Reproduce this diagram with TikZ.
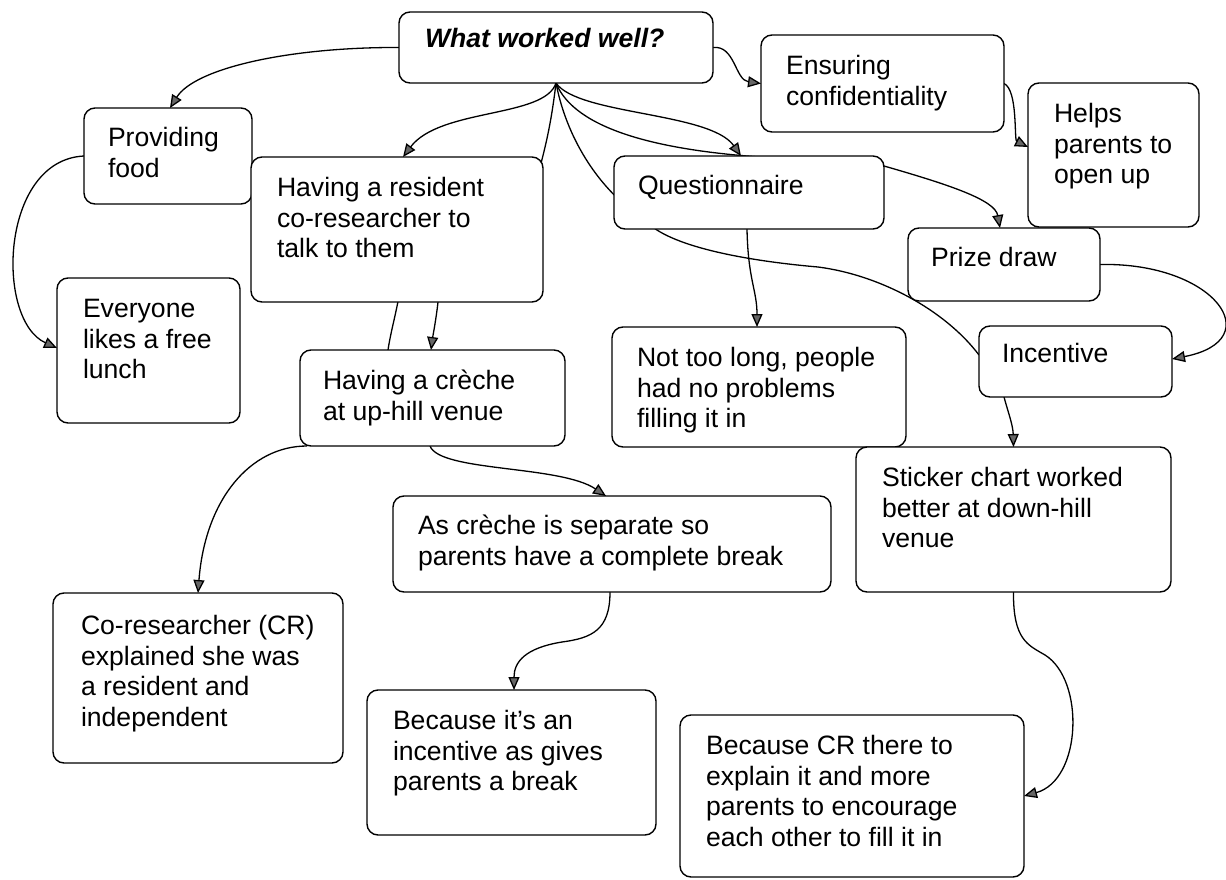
\documentclass[tikz,border=0pt]{standalone}
\usepackage{fontspec}
\setmainfont{Liberation Sans}
\usetikzlibrary{arrows.meta,fit}
\pgfdeclarelayer{links}
\pgfsetlayers{links,main}
\tikzset{
  box/.style={draw=black, line width=1.4pt, rounded corners=11pt, fill=white,
              inner sep=0pt, outer sep=0pt},
  txt/.style={anchor=north west, inner sep=0pt, outer sep=0pt, align=left,
              font=\fontsize{26.6}{30.6}\selectfont},
  link/.style={draw=black, line width=1.3pt},
  arr/.style={link, -{Triangle[length=13pt,width=11pt,fill=black!60]}},
}
\begin{document}
\begin{tikzpicture}[x=1pt,y=-1pt]
\useasboundingbox (0,0) rectangle (1226,880);

% boxes
\node[box, fit={(399,12) (713,83)}]    (top)      {};
\node[box, fit={(84,108) (252,204)}]   (food)     {};
\node[box, fit={(251,157) (543,302)}]  (res)      {};
\node[box, fit={(57,278) (240,423)}]   (every)    {};
\node[box, fit={(300,350) (565,446)}]  (creche)   {};
\node[box, fit={(614,156) (884,229)}]  (quest)    {};
\node[box, fit={(612,327) (906,447)}]  (notlong)  {};
\node[box, fit={(761,35) (1004,132)}]  (ensure)   {};
\node[box, fit={(1028,83) (1199,227)}] (helps)    {};
\node[box, fit={(908,228) (1100,301)}] (prize)    {};
\node[box, fit={(979,326) (1172,397)}] (incent)   {};
\node[box, fit={(856,447) (1171,592)}] (sticker)  {};
\node[box, fit={(53,593) (343,763)}]   (corese)   {};
\node[box, fit={(393,496) (831,592)}]  (ascreche) {};
\node[box, fit={(367,690) (656,835)}]  (because1) {};
\node[box, fit={(680,715) (1024,877)}] (becausecr){};

% labels
\node[txt] (top-t)      at (425,26)  {\strut\bfseries\itshape What worked well?};
\node[txt] (food-t)     at (108,125) {\strut Providing\\food};
\node[txt] (res-t)      at (277,175) {\strut Having a resident\\co-researcher to\\talk to them};
\node[txt] (every-t)    at (83,296)  {\strut Everyone\\likes a free\\lunch};
\node[txt] (creche-t)   at (323,368) {\strut Having a crèche\\at up-hill venue};
\node[txt] (quest-t)    at (638,173) {\strut Questionnaire};
\node[txt] (notlong-t)  at (637,345) {\strut Not too long, people\\had no problems\\filling it in};
\node[txt] (ensure-t)   at (786,53)  {\strut Ensuring\\confidentiality};
\node[txt] (helps-t)    at (1054,101){\strut Helps\\parents to\\open up};
\node[txt] (prize-t)    at (931,245) {\strut Prize draw};
\node[txt] (incent-t)   at (1002,341){\strut Incentive};
\node[txt] (sticker-t)  at (882,465) {\strut Sticker chart worked\\better at down-hill\\venue};
\node[txt] (corese-t)   at (81,613)  {\strut Co-researcher (CR)\\explained she was\\a resident and\\independent};
\node[txt] (ascreche-t) at (418,513) {\strut As crèche is separate so\\parents have a complete break};
\node[txt] (because1-t) at (393,708) {\strut Because it’s an\\incentive as gives\\parents a break};
\node[txt] (becausecr-t)at (706,733) {\strut Because CR there to\\explain it and more\\parents to encourage\\each other to fill it in};

% connectors, drawn beneath the boxes
\begin{pgfonlayer}{links}
\draw[arr] (top.west) .. controls (290,47) and (195,68) .. ([xshift=2pt]food.north);
\draw[arr] (top.south) .. controls (545,118) and (440,108) .. ([xshift=6pt]res.north);
\draw[link] (top.south) .. controls (551,125) and (545,150) .. (535,185) -- (401,285)
      .. controls (396,315) and (391,330) .. ([xshift=-44.5pt]creche.north);
\draw[arr] (top.south) .. controls (578,115) and (710,112) .. ([xshift=-8pt]quest.north);
\draw[arr] (top.south) .. controls (575,130) and (660,150) .. (760,157)
      .. controls (800,163) and (860,160) .. ([yshift=-10pt]quest.north east)
      .. controls (950,185) and (995,200) .. ([xshift=-4pt]prize.north);
\draw[link] (top.south) .. controls (565,130) and (590,175) .. (625,205) -- (650,225)
      .. controls (680,250) and (760,262) .. (818,267)
      .. controls (880,275) and (945,310) .. ([yshift=6.5pt]incent.west);
\draw[arr] (top.east) .. controls (735,45) and (735,80) .. (ensure.west);
\draw[arr] (ensure.east) .. controls (1018,90) and (1014,140) .. ([yshift=8pt]helps.west);
\draw[arr] ([xshift=-2pt]quest.south) .. controls (748,280) and (757,290) .. ([xshift=-2pt]notlong.north);
\draw[arr] (prize.east) .. controls (1215,262) and (1270,340) .. ([yshift=2.5pt]incent.east);
\draw[arr] ([xshift=-71.5pt]incent.south) .. controls (1008,412) and (1013,425) .. (sticker.north);
\draw[arr] ([xshift=41pt]res.south) .. controls (436,320) and (433,335) .. ([xshift=-1.5pt]creche.north);
\draw[arr] (food.west) .. controls (0,160) and (-5,320) .. ([yshift=2.5pt]every.west);
\draw[arr] ([xshift=7pt]creche.south west) .. controls (250,446) and (205,500) .. (corese.north);
\draw[arr] ([xshift=-2.5pt]creche.south) .. controls (440,472) and (560,465) .. ([xshift=-6pt]ascreche.north);
\draw[arr] ([xshift=-2pt]ascreche.south) .. controls (610,630) and (592,638) .. (562,642)
      .. controls (525,648) and (514,662) .. ([xshift=2.5pt]because1.north);
\draw[arr] (sticker.south) .. controls (1013,640) and (1028,645) .. (1045,655)
      .. controls (1085,680) and (1082,780) .. (becausecr.east);
\end{pgfonlayer}
\end{tikzpicture}
\end{document}
